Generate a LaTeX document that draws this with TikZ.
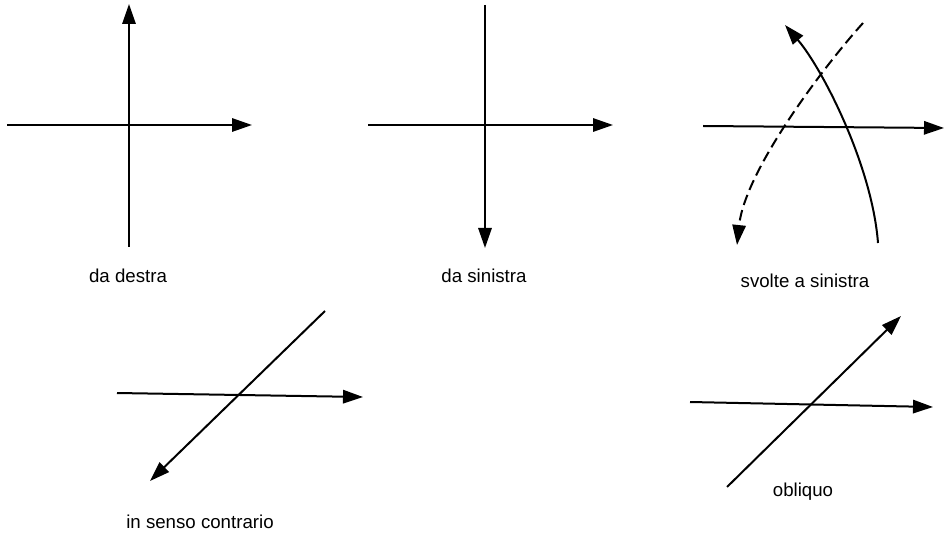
\documentclass[tikz,border=0pt]{standalone}
\usepackage{fontspec}
\setmainfont{Liberation Sans}
\usetikzlibrary{arrows.meta}
\begin{document}
\begin{tikzpicture}[x=0.75pt,y=-0.75pt,
  line width=1.5pt,
  arr/.style={-{Triangle[length=15pt,width=10pt]}},
  lbl/.style={font=\fontsize{14}{16}\selectfont, inner sep=0pt}]
\useasboundingbox (0,0) rectangle (944,534);
% panel 1
\coordinate (a1) at (7,125); \coordinate (a2) at (252,125);
\coordinate (b1) at (129,247); \coordinate (b2) at (129,4);
\draw[arr] (a1) -- (a2);
\draw[arr] (b1) -- (b2);
\node[lbl] (l1) at (128,276) {da destra};
% panel 2
\coordinate (c1) at (368,125); \coordinate (c2) at (613,125);
\coordinate (d1) at (485,5); \coordinate (d2) at (485,248);
\draw[arr] (c1) -- (c2);
\draw[arr] (d1) -- (d2);
\node[lbl] (l2) at (484,276) {da sinistra};
% panel 3
\coordinate (e1) at (703,126); \coordinate (e2) at (944,128);
\coordinate (f1) at (878,243); \coordinate (f2) at (785,25);
\coordinate (g1) at (863,23); \coordinate (g2) at (737,245);
\draw[arr] (e1) -- (e2);
\draw[arr] (f1) .. controls (872,165) and (822,68) .. (f2);
\draw[arr, dash pattern=on 8pt off 4pt] (g1) .. controls (825,65) and (745,170) .. (g2);
\node[lbl] (l3) at (805,281) {svolte a sinistra};
% panel 4
\coordinate (h1) at (117,393); \coordinate (h2) at (363,397);
\coordinate (i1) at (325,311); \coordinate (i2) at (150,481);
\draw[arr] (h1) -- (h2);
\draw[arr] (i1) -- (i2);
\node[lbl] (l4) at (200,522) {in senso contrario};
% panel 6
\coordinate (j1) at (690,402); \coordinate (j2) at (933,407);
\coordinate (k1) at (727,487); \coordinate (k2) at (901,316);
\draw[arr] (j1) -- (j2);
\draw[arr] (k1) -- (k2);
\node[lbl] (l6) at (803,492) {obliquo};
\end{tikzpicture}
\end{document}
